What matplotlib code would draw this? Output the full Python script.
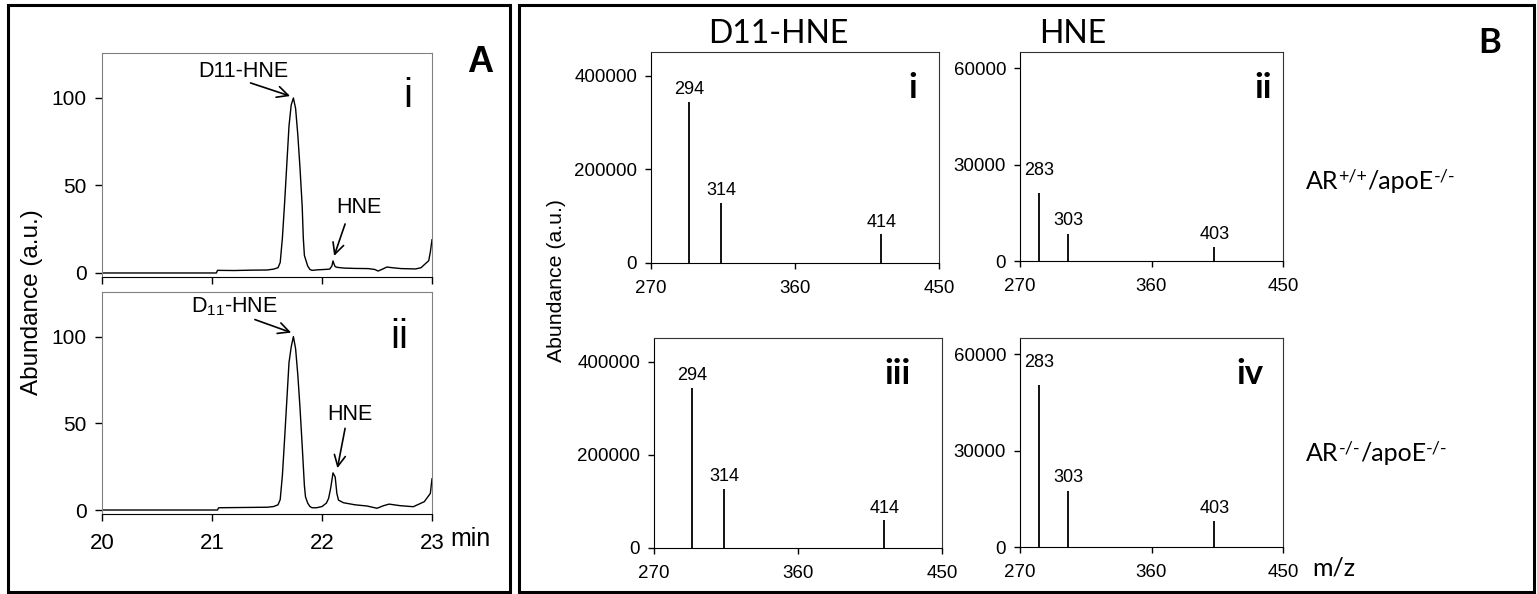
import matplotlib
matplotlib.use("Agg")
import matplotlib.pyplot as plt
from matplotlib.patches import Rectangle

# ---------------- data ----------------
# Panel A: chromatograms (time in min, relative abundance)
time_i = [20.00, 21.04, 21.05, 21.20, 21.35, 21.50, 21.56, 21.60, 21.62, 21.64, 21.66,
          21.68, 21.70, 21.72, 21.74, 21.76, 21.78, 21.80, 21.82, 21.83, 21.84, 21.85,
          21.87, 21.89, 21.91, 21.96, 22.02, 22.07, 22.09, 22.10, 22.11, 22.12, 22.14,
          22.20, 22.30, 22.42, 22.48, 22.51, 22.55, 22.59, 22.64, 22.72, 22.85, 22.90,
          22.94, 22.97, 22.985, 23.00]
abund_i = [0.0, 0.0, 1.5, 1.4, 1.6, 1.7, 2.2, 3.0, 6.0, 20.0, 40.0,
           62.0, 84.0, 96.0, 100.0, 94.0, 79.0, 60.0, 38.0, 20.0, 10.0, 8.0,
           4.0, 2.0, 1.5, 1.8, 2.0, 2.2, 4.0, 6.9, 5.0, 3.6, 3.2,
           2.8, 2.6, 2.5, 2.0, 1.1, 2.2, 3.4, 3.0, 2.5, 2.3, 3.0,
           5.3, 7.0, 12.0, 19.0]

time_ii = [20.00, 21.05, 21.06, 21.20, 21.35, 21.50, 21.56, 21.60, 21.62, 21.64, 21.66,
           21.68, 21.70, 21.72, 21.74, 21.76, 21.78, 21.80, 21.82, 21.84, 21.85,
           21.87, 21.89, 21.91, 21.95, 22.00, 22.04, 22.06, 22.08, 22.10, 22.12,
           22.135, 22.15, 22.195, 22.30, 22.41, 22.50, 22.56, 22.61, 22.71, 22.83,
           22.93, 22.985, 23.00]
abund_ii = [0.0, 0.0, 1.3, 1.4, 1.5, 1.6, 2.0, 3.0, 6.0, 20.0, 41.0,
            63.0, 85.0, 94.0, 100.0, 93.0, 78.0, 59.0, 37.0, 14.0, 7.6,
            4.0, 2.0, 1.3, 1.3, 2.0, 4.0, 6.7, 13.0, 21.4, 19.0,
            9.6, 5.7, 4.2, 3.0, 2.3, 1.0, 2.5, 3.4, 2.5, 1.9,
            4.8, 9.6, 18.0]

time_ticks = [20, 21, 22, 23]
abund_ticks = [0, 50, 100]

# Panel B: mass spectra (m/z, intensity)
mz_d11 = [294, 314, 414]
int_i = [343600, 128600, 61400]     # AR+/+/apoE-/-, D11-HNE
int_iii = [342900, 127100, 60700]   # AR-/-/apoE-/-, D11-HNE
mz_hne = [283, 303, 403]
int_ii = [21100, 8290, 4250]        # AR+/+/apoE-/-, HNE
int_iv = [50300, 17300, 8070]       # AR-/-/apoE-/-, HNE

mz_ticks = [270, 360, 450]
d11_ticks = [0, 200000, 400000]
hne_ticks = [0, 30000, 60000]

# ---------------- figure ----------------
W, H = 1537, 594
fig = plt.figure(figsize=(W / 100, H / 100), dpi=100)
renderer = fig.canvas.get_renderer()

ARIAL = "Liberation Sans"
CALIBRI = "Lato"


def ax_px(l, r, t, b):
    return fig.add_axes([l / W, 1 - b / H, (r - l) / W, (b - t) / H])


def ftext(px, py, s, **kw):
    kw.setdefault("ha", "center")
    kw.setdefault("va", "baseline")
    return fig.text(px / W, 1 - py / H, s, **kw)


def chain(px, py, pieces, family):
    x = px
    for s, size, dy in pieces:
        t = ftext(x, py - dy, s, ha="left", fontsize=size, family=family)
        x += t.get_window_extent(renderer).width


# outer frames
for (l, r, t, b) in [(8, 510, 5, 592), (519, 1534, 5, 592)]:
    fig.patches.append(Rectangle((l / W, 1 - b / H), (r - l) / W, (b - t) / H,
                                 transform=fig.transFigure, fill=False,
                                 lw=2.2, ec="black", zorder=10))

ARROW = dict(arrowstyle="->", lw=1.2, color="black", mutation_scale=20,
             shrinkA=0, shrinkB=0)


def style_A(ax):
    for s in ("top", "right", "left"):
        ax.spines[s].set_color("#808080")
    ax.spines["bottom"].set_color("black")
    ax.set_xlim(20, 23)
    ax.set_ylim(-2.3, 125.7)
    ax.set_xticks(time_ticks)
    ax.set_yticks(abund_ticks)
    ax.set_yticklabels([str(v) for v in abund_ticks], fontsize=15, family=ARIAL)
    ax.tick_params(direction="out", length=5, width=1, pad=6)


# ---- Panel A top (i)
axA1 = ax_px(102, 432, 53, 277)
axA1.plot(time_i, abund_i, color="black", lw=1.0)
style_A(axA1)
axA1.set_xticklabels([])
axA1.annotate("", xy=(21.71, 101.1), xytext=(21.35, 108.6), arrowprops=ARROW)
axA1.annotate("", xy=(22.11, 9.7), xytext=(22.21, 28.0), arrowprops=ARROW)
ftext(243, 77, "D11-HNE", fontsize=15.5, family=ARIAL)
ftext(359, 213, "HNE", fontsize=15.5, family=ARIAL)

# ---- Panel A bottom (ii)
axA2 = ax_px(102, 432, 292, 514)
axA2.plot(time_ii, abund_ii, color="black", lw=1.0)
style_A(axA2)
axA2.set_xticklabels([str(v) for v in time_ticks], fontsize=16, family=ARIAL)
axA2.tick_params(axis="x", pad=9)
axA2.annotate("", xy=(21.72, 102.3), xytext=(21.39, 109.8), arrowprops=ARROW)
axA2.annotate("", xy=(22.14, 24.1), xytext=(22.21, 47.1), arrowprops=ARROW)
ftext(234, 312, "D$_{\\mathregular{11}}$-HNE", fontsize=15.5, family=ARIAL)
ftext(349.5, 420, "HNE", fontsize=15.5, family=ARIAL)

ftext(450, 546, "min", ha="left", fontsize=18, family=ARIAL)
ftext(408, 107, "i", fontsize=29, family=ARIAL)
ftext(399, 348, "ii", fontsize=29, family=ARIAL)
ftext(480, 72, "A", fontsize=26, family=ARIAL, weight="bold")
fig.text(32 / W, 1 - 302 / H, "Abundance (a.u.)", rotation=90, ha="center",
         va="center", fontsize=17.5, family=ARIAL)


# ---------------- Panel B ----------------
def spectrum(ax, mz, inten, ymax, yticks, offsets):
    ax.vlines(mz, 0, inten, color="black", lw=1.3)
    for m, v, off in zip(mz, inten, offsets):
        ax.annotate(str(m), (m, v), xytext=(0, off), textcoords="offset points",
                    ha="center", va="bottom", fontsize=13, family=ARIAL)
    ax.set_xlim(270, 450)
    ax.set_ylim(0, ymax)
    ax.set_xticks(mz_ticks)
    ax.set_xticklabels([str(v) for v in mz_ticks], fontsize=13.5, family=ARIAL)
    ax.set_yticks(yticks)
    ax.set_yticklabels([str(v) for v in yticks], fontsize=13.5, family=ARIAL)
    ax.tick_params(direction="out", length=4, width=1, pad=6)
    ax.tick_params(axis="x", pad=8)
    for s in ("top", "right"):
        ax.spines[s].set_color("#333333")


axB1 = ax_px(651, 939, 52, 263)
spectrum(axB1, mz_d11, int_i, 451000, d11_ticks, [3, 3, 2])
axB2 = ax_px(1020, 1283, 52, 261)
spectrum(axB2, mz_hne, int_ii, 65000, hne_ticks, [10, 4, 3])
axB3 = ax_px(654, 942, 338, 548)
spectrum(axB3, mz_d11, int_iii, 451000, d11_ticks, [3, 3, 2])
axB4 = ax_px(1020, 1283, 338, 547)
spectrum(axB4, mz_hne, int_iv, 65000, hne_ticks, [10, 4, 3])

ftext(778, 43, "D11-HNE", fontsize=23, family=CALIBRI)
ftext(1073, 43, "HNE", fontsize=23, family=CALIBRI)
ftext(913, 98, "i", fontsize=25, family=CALIBRI, weight="bold")
ftext(1263, 98, "ii", fontsize=25, family=CALIBRI, weight="bold")
ftext(897, 384, "iii", fontsize=25, family=CALIBRI, weight="bold")
ftext(1250, 384, "iv", fontsize=25, family=CALIBRI, weight="bold")
ftext(1490, 53, "B", fontsize=25, family=CALIBRI, weight="bold")
chain(1306, 189, [("AR", 18, 0), ("+/+", 13, 8), ("/apoE", 18, 0), ("-/-", 13, 8)],
      CALIBRI)
chain(1306, 461, [("AR", 18, 0), ("-/-", 13, 8), ("/apoE", 18, 0), ("-/-", 13, 8)],
      CALIBRI)
ftext(1312, 576, "m/z", ha="left", fontsize=18, family=CALIBRI)
fig.text(556 / W, 1 - 281 / H, "Abundance (a.u.)", rotation=90, ha="center",
         va="center", fontsize=15.3, family=ARIAL)

fig.savefig("out.png", dpi=100)
